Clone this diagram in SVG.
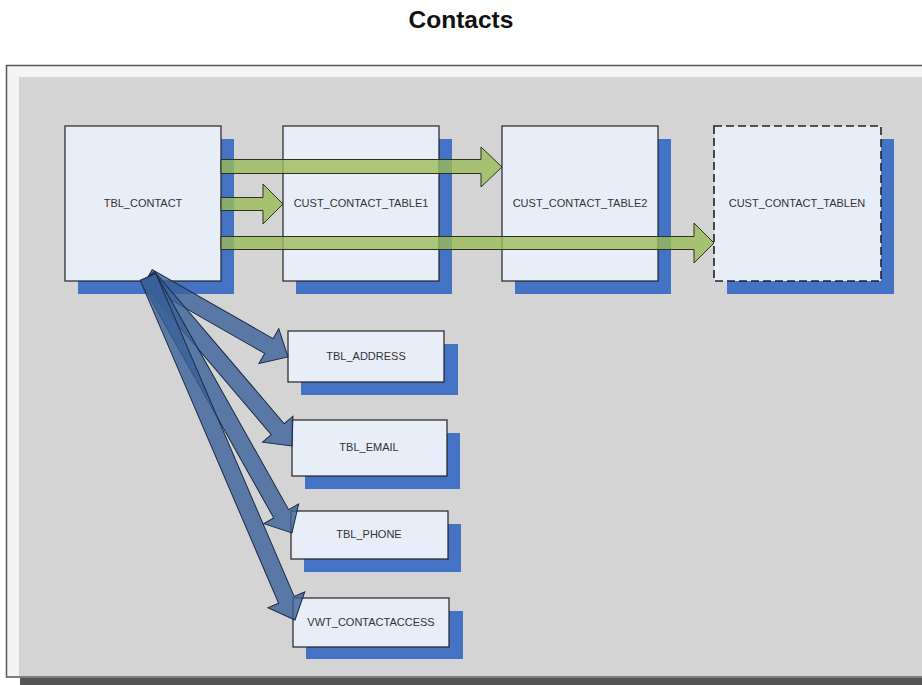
<svg xmlns="http://www.w3.org/2000/svg" width="922" height="685" viewBox="0 0 922 685">
<style>
.shadow{fill:#4472c4}
.box{fill:#e8eef8;stroke:#222;stroke-width:1.2}
.dashed{stroke-dasharray:8 4;stroke-width:1.6}
.lbl{font-family:"Liberation Sans",Arial,sans-serif;font-size:11px;fill:#333;text-anchor:middle}
.green{fill:#9bbb59;fill-opacity:0.8;stroke:#2a3320;stroke-width:1}
.blue{fill:#3a609a;fill-opacity:0.8;stroke:#1c2a40;stroke-width:1}
</style>
<rect x="0" y="0" width="922" height="685" fill="#ffffff"/>
<text x="461" y="28" font-family="'Liberation Sans',Arial,sans-serif" font-size="24.5" font-weight="bold" text-anchor="middle" fill="#111">Contacts</text>
<rect x="20" y="678" width="902" height="7" fill="#555"/>
<rect x="6.5" y="65.5" width="920" height="611.5" fill="#f4f4f4" stroke="#555" stroke-width="1.5"/>
<rect x="19" y="77" width="903" height="599" fill="#d4d4d4"/>

<g id="tbl_contact">
<rect class="shadow" x="78" y="139" width="156" height="155"/>
<rect class="box" x="65" y="126" width="156" height="155"/>
<text class="lbl" x="143" y="207">TBL_CONTACT</text>
</g>
<g id="cust_contact_table1">
<rect class="shadow" x="296" y="139" width="156" height="155"/>
<rect class="box" x="283" y="126" width="156" height="155"/>
<text class="lbl" x="361" y="207">CUST_CONTACT_TABLE1</text>
</g>
<g id="cust_contact_table2">
<rect class="shadow" x="515" y="139" width="156" height="155"/>
<rect class="box" x="502" y="126" width="156" height="155"/>
<text class="lbl" x="580" y="207">CUST_CONTACT_TABLE2</text>
</g>
<g id="cust_contact_tablen">
<rect class="shadow" x="727" y="139" width="167" height="155"/>
<rect class="box dashed" x="714" y="126" width="167" height="155"/>
<text class="lbl" x="797" y="207">CUST_CONTACT_TABLEN</text>
</g>
<g id="tbl_address">
<rect class="shadow" x="301" y="344" width="157" height="51"/>
<rect class="box" x="288" y="331" width="156" height="51"/>
<text class="lbl" x="366" y="360">TBL_ADDRESS</text>
</g>
<g id="tbl_email">
<rect class="shadow" x="305" y="433" width="155" height="56"/>
<rect class="box" x="292" y="420" width="155" height="56"/>
<text class="lbl" x="369" y="451">TBL_EMAIL</text>
</g>
<g id="tbl_phone">
<rect class="shadow" x="304" y="524" width="157" height="48"/>
<rect class="box" x="291" y="511" width="157" height="48"/>
<text class="lbl" x="369" y="538">TBL_PHONE</text>
</g>
<g id="vwt_contactaccess">
<rect class="shadow" x="306" y="611" width="157" height="48"/>
<rect class="box" x="293" y="598" width="156" height="49"/>
<text class="lbl" x="371" y="626">VWT_CONTACTACCESS</text>
</g>

<g id="connectors">
<path class="green" d="M221,159.5 H481 V147 L502,167 L481,187 V173.5 H221 Z"/>
<path class="green" d="M221,197.5 H263 V184 L283,204 L263,224 V210.5 H221 Z"/>
<path class="green" d="M221,236.5 H694 V223 L714,243 L694,263 V249.5 H221 Z"/>
<g transform="translate(148,277)">
<path class="blue" transform="rotate(29.74)" d="M0,-8.5 H139.2 V-20 L161.2,0 L139.2,20 V8.5 H0 Z"/>
<path class="blue" transform="rotate(49.56)" d="M0,-8.5 H200 V-20 L222,0 L200,20 V8.5 H0 Z"/>
<path class="blue" transform="rotate(60.64)" d="M0,-8.5 H271.7 V-20 L293.7,0 L271.7,20 V8.5 H0 Z"/>
<path class="blue" transform="rotate(66.80)" d="M0,-8.5 H351.2 V-20 L373.2,0 L351.2,20 V8.5 H0 Z"/>
</g>
</g>
</svg>
